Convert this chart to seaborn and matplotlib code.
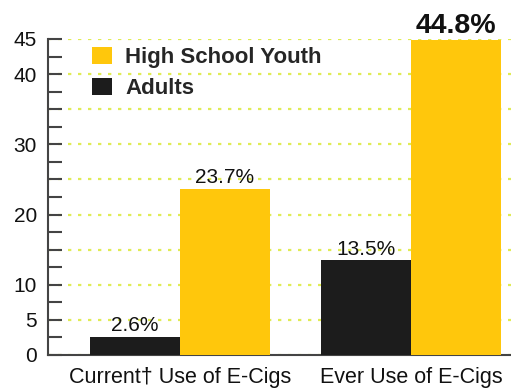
import matplotlib
matplotlib.use("Agg")
import matplotlib.pyplot as plt
import matplotlib.ticker as mticker
from matplotlib.patches import Patch
import seaborn as sns
import pandas as pd

categories = ["Current\u2020 Use of E-Cigs", "Ever Use of E-Cigs"]
groups = ["Adults", "High School Youth"]
adults = [2.6, 13.5]
youth = [23.7, 44.8]
yticks_labeled = [0, 5, 10, 20, 30, 40, 45]

df = pd.DataFrame({
    "cat": categories * 2,
    "group": [groups[0]] * 2 + [groups[1]] * 2,
    "value": adults + youth,
})

sns.set_theme(style="white")
plt.rcParams["font.family"] = ["Liberation Sans", "DejaVu Sans"]

YEL = "#FFC70C"
BLK = "#1c1c1c"

fig = plt.figure(figsize=(5.11, 3.89), dpi=100)
ax = fig.add_axes([48/511, 34/389, 463/511, 316/389])

sns.barplot(data=df, x="cat", y="value", hue="group", hue_order=groups,
            palette={groups[0]: BLK, groups[1]: YEL}, width=0.78,
            saturation=1, ax=ax, legend=False, zorder=3)
for p in ax.patches:
    p.set_edgecolor("none")

ax.set_xlim(-0.571, 1.433)
ax.set_ylim(0, 45)
ax.yaxis.set_major_locator(mticker.MultipleLocator(5))
ax.yaxis.set_minor_locator(mticker.MultipleLocator(2.5))
ax.yaxis.set_major_formatter(mticker.FuncFormatter(
    lambda v, p: f"{int(round(v))}" if int(round(v)) in yticks_labeled else ""))
ax.grid(axis="y", which="major", color="#e0ec55", linestyle=(0, (1.5, 3)),
        linewidth=1.6, zorder=0)
ax.set_axisbelow(True)
ax.tick_params(axis="y", which="both", direction="in", length=10, width=1.5,
               color="#444444", labelsize=15, pad=8, left=True, labelcolor="#111111")
ax.tick_params(axis="x", length=0, labelsize=15.5, pad=9, labelcolor="#111111")
ax.set_xlabel("")
ax.set_ylabel("")

for s in ["top", "right"]:
    ax.spines[s].set_visible(False)
for s in ["left", "bottom"]:
    ax.spines[s].set_color("#444444")
    ax.spines[s].set_linewidth(1.5)

containers = ax.containers
ax.bar_label(containers[0], labels=[f"{v}%" for v in adults], padding=1,
             fontsize=15, color="#111111")
t = ax.bar_label(containers[1], labels=[f"{v}%" for v in youth], padding=1,
                 fontsize=15, color="#111111")
t[1].set_fontsize(20.5)
t[1].set_fontweight("bold")
t[1].set_clip_on(False)
t[1].set_y(t[1].get_position()[1])

handles = [Patch(facecolor=YEL, edgecolor="none"), Patch(facecolor=BLK, edgecolor="none")]
ax.legend(handles, ["High School Youth", "Adults"], loc="upper left",
          bbox_to_anchor=((92-48)/463, (355-47)/316), frameon=False,
          borderpad=0, borderaxespad=0, handlelength=0.9, handleheight=0.8,
          handletextpad=0.6, labelspacing=0.45,
          prop={"weight": "bold", "size": 16})

fig.savefig("out.png", dpi=100)
